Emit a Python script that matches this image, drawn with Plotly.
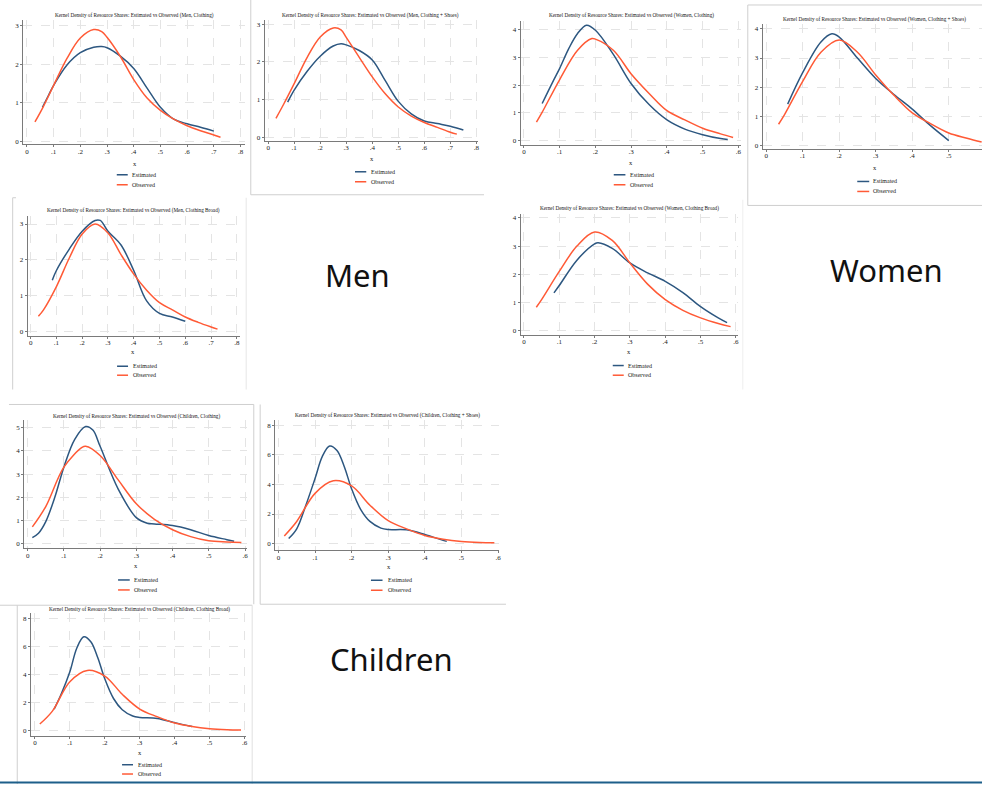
import plotly.graph_objects as go

W, H = 984, 785

# ---------------- data ----------------
TITLE_BASE = "Kernel Density of Resource Shares: Estimated vs Observed "
SERIES_NAMES = ["Estimated", "Observed"]
GROUP_LABELS = ["Men", "Women", "Children"]

X_TICKS_08 = [0, 0.1, 0.2, 0.3, 0.4, 0.5, 0.6, 0.7, 0.8]
X_LABELS_08 = ["0", ".1", ".2", ".3", ".4", ".5", ".6", ".7", ".8"]
X_TICKS_06 = [0, 0.1, 0.2, 0.3, 0.4, 0.5, 0.6]
X_LABELS_06 = ["0", ".1", ".2", ".3", ".4", ".5", ".6"]
X_TICKS_05 = [0, 0.1, 0.2, 0.3, 0.4, 0.5]
X_LABELS_05 = ["0", ".1", ".2", ".3", ".4", ".5"]
Y_TICKS_3 = [0, 1, 2, 3]
Y_TICKS_4 = [0, 1, 2, 3, 4]
Y_TICKS_5 = [0, 1, 2, 3, 4, 5]
Y_TICKS_8 = [0, 2, 4, 6, 8]

# Men, Clothing
men_cl_est_x = [0.058, 0.08, 0.1, 0.15, 0.2, 0.25, 0.28, 0.3, 0.35, 0.4, 0.45, 0.5, 0.55, 0.6, 0.65, 0.7]
men_cl_est_y = [0.88, 1.18, 1.45, 1.98, 2.3, 2.44, 2.46, 2.43, 2.21, 1.89, 1.38, 0.88, 0.57, 0.45, 0.36, 0.26]
men_cl_obs_x = [0.03, 0.06, 0.1, 0.15, 0.2, 0.25, 0.28, 0.3, 0.35, 0.4, 0.45, 0.5, 0.55, 0.6, 0.65, 0.7, 0.725]
men_cl_obs_y = [0.5, 0.88, 1.45, 2.15, 2.68, 2.9, 2.85, 2.7, 2.2, 1.6, 1.12, 0.8, 0.57, 0.4, 0.27, 0.16, 0.1]

# Men, Clothing + Shoes
men_cs_est_x = [0.075, 0.1, 0.15, 0.2, 0.25, 0.28, 0.3, 0.35, 0.4, 0.45, 0.5, 0.55, 0.6, 0.65, 0.7, 0.75]
men_cs_est_y = [0.93, 1.25, 1.75, 2.15, 2.42, 2.48, 2.45, 2.3, 2.05, 1.5, 0.95, 0.62, 0.43, 0.36, 0.29, 0.19]
men_cs_obs_x = [0.03, 0.06, 0.1, 0.15, 0.2, 0.25, 0.28, 0.3, 0.35, 0.4, 0.45, 0.5, 0.55, 0.6, 0.65, 0.7, 0.725]
men_cs_obs_y = [0.5, 0.88, 1.42, 2.12, 2.66, 2.9, 2.85, 2.65, 2.12, 1.6, 1.15, 0.8, 0.56, 0.39, 0.26, 0.13, 0.08]

# Women, Clothing
wom_cl_est_x = [0.051, 0.08, 0.1, 0.125, 0.15, 0.175, 0.2, 0.25, 0.3, 0.35, 0.4, 0.45, 0.5, 0.55, 0.57]
wom_cl_est_y = [1.34, 2.1, 2.6, 3.3, 3.85, 4.15, 3.97, 3.1, 2.05, 1.3, 0.75, 0.42, 0.22, 0.08, 0.05]
wom_cl_obs_x = [0.035, 0.05, 0.1, 0.15, 0.19, 0.2, 0.25, 0.3, 0.35, 0.4, 0.45, 0.5, 0.55, 0.585]
wom_cl_obs_y = [0.67, 1.0, 2.2, 3.25, 3.67, 3.65, 3.25, 2.4, 1.7, 1.08, 0.75, 0.45, 0.25, 0.12]

# Women, Clothing + Shoes
wom_cs_est_x = [0.059, 0.1, 0.15, 0.18, 0.2, 0.25, 0.3, 0.35, 0.4, 0.45, 0.5]
wom_cs_est_y = [1.42, 2.5, 3.55, 3.83, 3.72, 3.0, 2.3, 1.75, 1.25, 0.68, 0.17]
wom_cs_obs_x = [0.034, 0.05, 0.1, 0.15, 0.2, 0.25, 0.3, 0.35, 0.4, 0.45, 0.5, 0.55, 0.59]
wom_cs_obs_y = [0.73, 1.05, 2.2, 3.2, 3.62, 3.2, 2.42, 1.72, 1.12, 0.75, 0.43, 0.25, 0.12]

# Men, Clothing Broad
men_cb_est_x = [0.084, 0.1, 0.15, 0.2, 0.25, 0.27, 0.3, 0.35, 0.4, 0.45, 0.5, 0.55, 0.6]
men_cb_est_y = [1.43, 1.7, 2.3, 2.8, 3.1, 3.1, 2.8, 2.42, 1.7, 0.85, 0.5, 0.4, 0.28]
men_cb_obs_x = [0.03, 0.05, 0.1, 0.15, 0.2, 0.25, 0.3, 0.35, 0.4, 0.45, 0.5, 0.55, 0.6, 0.65, 0.7, 0.725]
men_cb_obs_y = [0.42, 0.6, 1.25, 2.05, 2.72, 3.0, 2.75, 2.15, 1.6, 1.15, 0.8, 0.6, 0.4, 0.25, 0.12, 0.06]

# Women, Clothing Broad
wom_cb_est_x = [0.085, 0.1, 0.15, 0.2, 0.21, 0.25, 0.3, 0.35, 0.4, 0.45, 0.5, 0.55, 0.575]
wom_cb_est_y = [1.34, 1.6, 2.5, 3.08, 3.12, 2.92, 2.4, 2.05, 1.75, 1.35, 0.85, 0.45, 0.28]
wom_cb_obs_x = [0.035, 0.05, 0.1, 0.15, 0.2, 0.25, 0.3, 0.35, 0.4, 0.45, 0.5, 0.55, 0.585]
wom_cb_obs_y = [0.83, 1.1, 2.1, 3.0, 3.5, 3.2, 2.4, 1.65, 1.1, 0.72, 0.45, 0.25, 0.14]

# Children, Clothing
chi_cl_est_x = [0.013, 0.03, 0.05, 0.075, 0.1, 0.13, 0.16, 0.18, 0.2, 0.25, 0.3, 0.33, 0.35, 0.4, 0.45, 0.5, 0.55, 0.57]
chi_cl_est_y = [0.26, 0.45, 0.95, 2.0, 3.3, 4.5, 5.05, 4.9, 4.2, 2.35, 1.12, 0.88, 0.85, 0.78, 0.6, 0.35, 0.17, 0.1]
chi_cl_obs_x = [0.013, 0.05, 0.1, 0.15, 0.16, 0.2, 0.25, 0.3, 0.35, 0.4, 0.45, 0.5, 0.55, 0.59]
chi_cl_obs_y = [0.72, 1.6, 3.3, 4.15, 4.2, 3.8, 2.75, 1.72, 1.05, 0.6, 0.3, 0.12, 0.07, 0.05]

# Children, Clothing + Shoes
chi_cs_est_x = [0.028, 0.05, 0.075, 0.1, 0.12, 0.14, 0.16, 0.18, 0.2, 0.225, 0.25, 0.28, 0.3, 0.35, 0.4, 0.45, 0.46]
chi_cs_est_y = [0.34, 1.0, 2.6, 4.4, 5.9, 6.6, 6.3, 5.2, 3.7, 2.3, 1.5, 1.05, 0.95, 0.93, 0.62, 0.22, 0.15]
chi_cs_obs_x = [0.016, 0.05, 0.1, 0.15, 0.2, 0.25, 0.3, 0.35, 0.4, 0.45, 0.5, 0.55, 0.59]
chi_cs_obs_y = [0.52, 1.5, 3.4, 4.25, 3.9, 2.6, 1.55, 1.0, 0.55, 0.3, 0.15, 0.08, 0.06]

# Children, Clothing Broad
chi_cb_est_x = [0.055, 0.075, 0.1, 0.12, 0.14, 0.16, 0.18, 0.2, 0.225, 0.25, 0.28, 0.3, 0.35, 0.4, 0.45]
chi_cb_est_y = [1.54, 2.6, 4.2, 5.9, 6.7, 6.35, 5.2, 3.7, 2.3, 1.5, 1.05, 0.95, 0.88, 0.58, 0.3]
chi_cb_obs_x = [0.014, 0.05, 0.1, 0.15, 0.2, 0.25, 0.3, 0.35, 0.4, 0.45, 0.5, 0.55, 0.59]
chi_cb_obs_y = [0.48, 1.4, 3.5, 4.3, 3.9, 2.6, 1.55, 1.0, 0.55, 0.3, 0.15, 0.08, 0.06]

# ---------------- layout helpers ----------------
BLUE = "#2d5780"
RED = "#ff5a36"
SERIF = "Liberation Serif"


def fx(x):
    return x / W


def fy(y):
    return 1 - y / H


panels = [
    dict(sub="(Men, Clothing)", est=(men_cl_est_x, men_cl_est_y), obs=(men_cl_obs_x, men_cl_obs_y),
         xt=(X_TICKS_08, X_LABELS_08), yt=Y_TICKS_3,
         p0x=27, sx=267.5, left=23.3, right=245, q0y=141.3, sy=38.5, top=20, bottom=144.3,
         title=(135, 16), xl=(135, 164), leg=(117, 128, 130, 175, 185)),
    dict(sub="(Men, Clothing + Shoes)", est=(men_cs_est_x, men_cs_est_y), obs=(men_cs_obs_x, men_cs_obs_y),
         xt=(X_TICKS_08, X_LABELS_08), yt=Y_TICKS_3,
         p0x=268.7, sx=260.8, left=265.3, right=479, q0y=137.3, sy=37.7, top=20, bottom=141,
         title=(371, 15.7), xl=(373, 159), leg=(355.7, 367, 369.7, 172, 182)),
    dict(sub="(Women, Clothing)", est=(wom_cl_est_x, wom_cl_est_y), obs=(wom_cl_obs_x, wom_cl_obs_y),
         xt=(X_TICKS_06, X_LABELS_06), yt=Y_TICKS_4,
         p0x=525, sx=358.3, left=521.7, right=742.7, q0y=141, sy=27.9, top=21, bottom=145,
         title=(632.7, 15.7), xl=(632, 163), leg=(615, 626.7, 629, 175, 185)),
    dict(sub="(Women, Clothing + Shoes)", est=(wom_cs_est_x, wom_cs_est_y), obs=(wom_cs_obs_x, wom_cs_obs_y),
         xt=(X_TICKS_05, X_LABELS_05), yt=Y_TICKS_4,
         p0x=767.7, sx=366, left=764.3, right=984, q0y=145.7, sy=29.2, top=24, bottom=149,
         title=(876.7, 20), xl=(876.7, 167.5), leg=(859, 871, 873, 181.7, 191.7)),
    dict(sub="(Men, Clothing Broad)", est=(men_cb_est_x, men_cb_est_y), obs=(men_cb_obs_x, men_cb_obs_y),
         xt=(X_TICKS_08, X_LABELS_08), yt=Y_TICKS_3,
         p0x=30.7, sx=258.3, left=27.7, right=240, q0y=331.7, sy=35.8, top=216, bottom=336,
         title=(133.3, 211), xl=(133.3, 352), leg=(117.3, 128.3, 131, 366.7, 375.7)),
    dict(sub="(Women, Clothing Broad)", est=(wom_cb_est_x, wom_cb_est_y), obs=(wom_cb_obs_x, wom_cb_obs_y),
         xt=(X_TICKS_06, X_LABELS_06), yt=Y_TICKS_4,
         p0x=525, sx=354, left=521.7, right=739.3, q0y=331, sy=28.2, top=214, bottom=335,
         title=(631, 209), xl=(630.7, 352), leg=(614, 625, 627.7, 366, 375.7)),
    dict(sub="(Children, Clothing)", est=(chi_cl_est_x, chi_cl_est_y), obs=(chi_cl_obs_x, chi_cl_obs_y),
         xt=(X_TICKS_06, X_LABELS_06), yt=Y_TICKS_5,
         p0x=27.7, sx=363, left=24.3, right=247.3, q0y=544.3, sy=23.2, top=421, bottom=549,
         title=(136.7, 416.7), xl=(136.7, 566.5), leg=(118.3, 130, 132.7, 580.7, 590.7)),
    dict(sub="(Children, Clothing + Shoes)", est=(chi_cs_est_x, chi_cs_est_y), obs=(chi_cs_obs_x, chi_cs_obs_y),
         xt=(X_TICKS_06, X_LABELS_06), yt=Y_TICKS_8,
         p0x=279, sx=366.7, left=275.7, right=500, q0y=544.3, sy=14.8, top=421, bottom=551,
         title=(388.3, 416), xl=(389.3, 567), leg=(371.7, 383.3, 386.7, 581, 591)),
    dict(sub="(Children, Clothing Broad)", est=(chi_cb_est_x, chi_cb_est_y), obs=(chi_cb_obs_x, chi_cb_obs_y),
         xt=(X_TICKS_06, X_LABELS_06), yt=Y_TICKS_8,
         p0x=35, sx=350, left=31, right=246.7, q0y=731.7, sy=14.05, top=614, bottom=736.7,
         title=(139.3, 610), xl=(140, 753.5), leg=(122.3, 133.3, 136, 765.7, 775)),
]

fig = go.Figure()
layout = {}
annotations = []
shapes = []

for i, p in enumerate(panels, start=1):
    xs = "" if i == 1 else str(i)
    xa, ya = "xaxis" + xs, "yaxis" + xs
    xr = [(p["left"] - p["p0x"]) / p["sx"], (p["right"] - p["p0x"]) / p["sx"]]
    yr = [(p["q0y"] - p["bottom"]) / p["sy"], (p["q0y"] - p["top"]) / p["sy"]]
    common = dict(showgrid=True, gridcolor="#e4e4e4", griddash="dash", gridwidth=1,
                  showline=True, linecolor="#7a7a7a", linewidth=1, ticks="outside",
                  ticklen=2, tickwidth=1, tickcolor="#7a7a7a", zeroline=False,
                  fixedrange=True, tickfont=dict(family=SERIF, size=7, color="#1a1a1a"))
    layout[xa] = dict(domain=[fx(p["left"]), min(1.0, fx(p["right"]))], range=xr,
                      anchor="y" + xs, tickmode="array", tickvals=p["xt"][0],
                      ticktext=p["xt"][1], ticklabelstandoff=-2, **common)
    layout[ya] = dict(domain=[fy(p["bottom"]), fy(p["top"])], range=yr,
                      anchor="x" + xs, tickmode="array", tickvals=p["yt"],
                      ticktext=[str(v) for v in p["yt"]], **common)

    for (sx_, sy_), color, name in ((p["est"], BLUE, SERIES_NAMES[0]),
                                     (p["obs"], RED, SERIES_NAMES[1])):
        fig.add_trace(go.Scatter(x=sx_, y=sy_, mode="lines", name=name,
                                 line=dict(color=color, width=1.5, shape="spline", smoothing=1.0),
                                 xaxis="x" + xs, yaxis="y" + xs, showlegend=False,
                                 hoverinfo="skip"))

    tx, ty = p["title"]
    annotations.append(dict(x=fx(tx), y=fy(ty), xref="paper", yref="paper", showarrow=False,
                            text=TITLE_BASE + p["sub"], xanchor="center", yanchor="middle",
                            font=dict(family=SERIF, size=5.2, color="#111111")))
    lx, ly = p["xl"]
    annotations.append(dict(x=fx(lx), y=fy(ly), xref="paper", yref="paper", showarrow=False,
                            text="x", xanchor="center", yanchor="middle",
                            font=dict(family=SERIF, size=6.5, color="#1a1a1a")))
    l0, l1, ltx, le, lo = p["leg"]
    for yy, color, name in ((le, BLUE, SERIES_NAMES[0]), (lo, RED, SERIES_NAMES[1])):
        shapes.append(dict(type="line", xref="paper", yref="paper", x0=fx(l0), x1=fx(l1),
                           y0=fy(yy), y1=fy(yy), line=dict(color=color, width=1.5)))
        annotations.append(dict(x=fx(ltx), y=fy(yy), xref="paper", yref="paper", showarrow=False,
                                text=name, xanchor="left", yanchor="middle",
                                font=dict(family=SERIF, size=6, color="#1a1a1a")))

# group labels
for text, (gx, gy) in zip(GROUP_LABELS, [(358, 275), (888, 270), (392, 660)]):
    annotations.append(dict(x=fx(gx), y=fy(gy), xref="paper", yref="paper", showarrow=False,
                            text=text, xanchor="center", yanchor="middle",
                            font=dict(family="Noto Sans", size=31, color="#111111")))

# screenshot frames
def seg(x0, y0, x1, y1, color="#cfcfcf", width=1):
    shapes.append(dict(type="line", xref="paper", yref="paper", x0=fx(x0), y0=fy(y0),
                       x1=fx(x1), y1=fy(y1), line=dict(color=color, width=width)))

seg(251.3, 0, 251.3, 195)
seg(251.3, 195, 485, 195)
seg(749.3, 5, 749.3, 205.7)
seg(749.3, 5, 984, 5)
seg(749.3, 205.7, 984, 205.7)
seg(12.7, 198, 12.7, 390)
seg(12.7, 198, 16, 198)
seg(246.7, 198, 246.7, 390, color="#e6e6e6")
seg(744.3, 200, 744.3, 390, color="#eeeeee")
seg(9, 405, 254.3, 405)
seg(254.3, 405, 254.3, 605)
seg(260.7, 405, 260.7, 605)
seg(260.7, 605, 507, 605)
seg(0, 606, 252.7, 606)
seg(17.3, 606, 17.3, 785)
seg(252.7, 606, 252.7, 785, color="#e0e0e0")
seg(0, 783.5, 984, 783.5, color="#1d5f8a", width=2)

fig.update_layout(**layout)
fig.update_layout(width=W, height=H, margin=dict(l=0, r=0, t=0, b=0),
                  paper_bgcolor="white", plot_bgcolor="white",
                  annotations=annotations, shapes=shapes, showlegend=False)

fig.write_html("out.html", include_plotlyjs=True, config={"displayModeBar": False})
